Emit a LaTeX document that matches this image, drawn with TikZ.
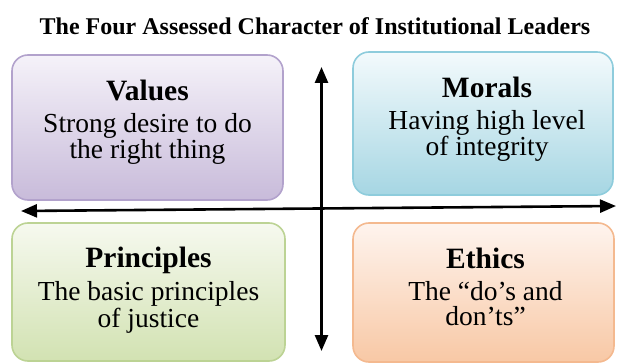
\documentclass[tikz,border=0pt]{standalone}
\usepackage{fontspec}
\setmainfont{Liberation Serif}
\usetikzlibrary{arrows.meta}
\definecolor{valtop}{HTML}{F5F2F9}
\definecolor{valbot}{HTML}{C8BBDA}
\definecolor{valline}{HTML}{B2A2CC}
\definecolor{mortop}{HTML}{F3FAFC}
\definecolor{morbot}{HTML}{A6D6E3}
\definecolor{morline}{HTML}{8ECCDC}
\definecolor{pritop}{HTML}{F6F9EF}
\definecolor{pribot}{HTML}{D2E2B2}
\definecolor{priline}{HTML}{BCD394}
\definecolor{ethtop}{HTML}{FEF4EE}
\definecolor{ethbot}{HTML}{F8C8A5}
\definecolor{ethline}{HTML}{F4B98F}
\tikzset{
  quadbox/.style n args={3}{draw=#3, line width=1.6pt, rounded corners=16pt,
    top color=#1, bottom color=#2, inner sep=0pt},
  quadtext/.style={align=center, inner sep=0pt, font=\fontsize{27.5}{25}\selectfont},
  axis/.style={line width=2.6pt, {Triangle[length=16pt,width=13pt]}-{Triangle[length=16pt,width=13pt]}}
}
\newcommand{\head}[1]{{\fontsize{29.5}{31}\selectfont\bfseries #1}\\[7pt]}
\begin{document}
\begin{tikzpicture}[x=1pt,y=-1pt]
\useasboundingbox (0,0) rectangle (617,363);
% title
\node (title) at (315,26) {\fontsize{24}{26}\selectfont\bfseries The Four Assessed Character of Institutional Leaders};
% the four quadrants
\node[quadbox={valtop}{valbot}{valline}, minimum width=271pt, minimum height=145pt] (values) at (147.5,127.5) {};
\node[quadbox={mortop}{morbot}{morline}, minimum width=260pt, minimum height=143pt] (morals) at (483,123.5) {};
\node[quadbox={pritop}{pribot}{priline}, minimum width=273pt, minimum height=138pt] (principles) at (148.5,292) {};
\node[quadbox={ethtop}{ethbot}{ethline}, minimum width=261pt, minimum height=139pt] (ethics) at (483.5,292.5) {};
\node[quadtext, yshift=5pt] (valuestext) at (values.center)
  {\head{Values}Strong desire to do\\the right thing};
\node[quadtext, yshift=4pt, xshift=4pt] (moralstext) at (morals.center)
  {\head{Morals}Having high level\\of integrity};
\node[quadtext, yshift=2pt] (principlestext) at (principles.center)
  {\head{Principles}The basic principles\\of justice};
\node[quadtext, yshift=6pt, xshift=2pt] (ethicstext) at (ethics.center)
  {\head{Ethics}The “do’s and\\don’ts”};
% axes
\coordinate (west) at (21,211);
\coordinate (east) at (616,206);
\coordinate (north) at (321.5,67);
\coordinate (south) at (321.5,351);
\draw[axis] (west) -- (east);
\draw[axis] (north) -- (south);
\end{tikzpicture}
\end{document}
